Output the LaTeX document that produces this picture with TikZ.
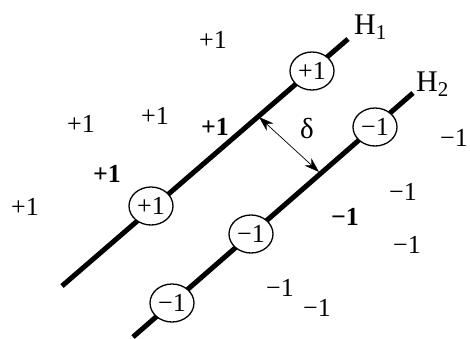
\documentclass[tikz,border=0pt]{standalone}
\usepackage{fontspec}
\setmainfont{Liberation Serif}
\usetikzlibrary{arrows.meta, shapes.geometric}

\begin{document}
\begin{tikzpicture}[x=1pt, y=-1pt, >={Stealth[length=15pt, width=10pt]},
  lbl/.style={font=\fontsize{26}{30}\selectfont, inner sep=0pt},
  sv/.style={ellipse, draw, line width=1.3pt, fill=white, minimum width=44pt, minimum height=38pt, inner sep=0pt, font=\fontsize{26}{30}\selectfont},
  plane/.style={line width=5pt}]
  \useasboundingbox (0,0) rectangle (470,338);
  % the two hyperplanes
  \coordinate (h1a) at (62,286);
  \coordinate (h1b) at (348,39);
  \coordinate (h2a) at (133,337);
  \coordinate (h2b) at (413,93);
  \draw[plane] (h1a) -- (h1b);
  \draw[plane] (h2a) -- (h2b);
  \node[lbl, font=\fontsize{30}{34}\selectfont, anchor=base west] (h1lbl) at (354,34) {H\textsubscript{1}};
  \node[lbl, font=\fontsize{30}{34}\selectfont, anchor=base west] (h2lbl) at (416,91) {H\textsubscript{2}};
  % support vectors
  \node[sv] (sp1) at (312,71) {+1};
  \node[sv] (sp2) at (151,206) {+1};
  \node[sv] (sn1) at (375,127) {−1};
  \node[sv] (sn2) at (251,234) {−1};
  \node[sv] (sn3) at (172,303) {−1};
  % margin
  \coordinate (m1) at (259,117);
  \coordinate (m2) at (319,172);
  \draw[<->, line width=0.7pt] (m1) -- (m2);
  \node[lbl, font=\fontsize{29}{32}\selectfont] (delta) at (307,129) {δ};
  % positive samples
  \node[lbl] (pa) at (213,40) {+1};
  \node[lbl] (pb) at (81,124) {+1};
  \node[lbl] (pc) at (155,116) {+1};
  \node[lbl, font=\fontsize{26}{30}\selectfont\bfseries] (pd) at (215,127) {+1};
  \node[lbl, font=\fontsize{26}{30}\selectfont\bfseries] (pe) at (107,174) {+1};
  \node[lbl] (pf) at (25,207) {+1};
  % negative samples
  \node[lbl] (na) at (454,138) {−1};
  \node[lbl] (nb) at (403,192) {−1};
  \node[lbl, font=\fontsize{26}{30}\selectfont\bfseries] (nc) at (345,217) {−1};
  \node[lbl] (nd) at (407,245) {−1};
  \node[lbl] (ne) at (280,288) {−1};
  \node[lbl] (nf) at (317,308) {−1};
\end{tikzpicture}
\end{document}
